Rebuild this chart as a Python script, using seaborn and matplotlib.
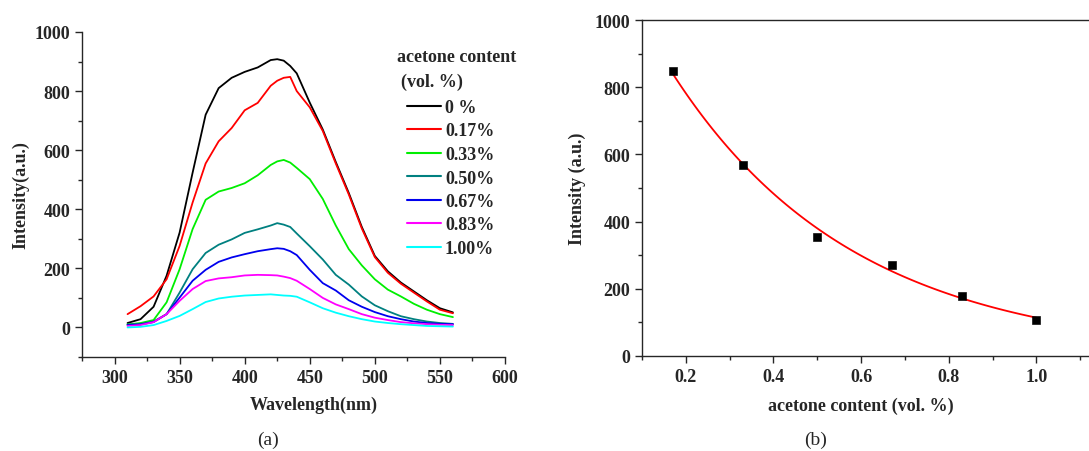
import numpy as np
import pandas as pd
import seaborn as sns
import matplotlib.pyplot as plt
from matplotlib.ticker import MultipleLocator

# (a) emission spectra for each acetone content
wavelength = [310, 320, 330, 340, 350, 360, 370, 380, 390, 400, 410, 420, 425, 430,
              435, 440, 450, 460, 470, 480, 490, 500, 510, 520, 530, 540, 550, 560]
content_labels = ["0 %", "0.17%", "0.33%", "0.50%", "0.67%", "0.83%", "1.00%"]
i_000 = [15, 28, 70, 175, 321, 524, 720, 810, 845, 865, 880, 905, 908, 903,
         885, 860, 761, 670, 560, 455, 340, 242, 190, 152, 122, 92, 65, 51]
i_017 = [45, 72, 105, 163, 276, 423, 555, 630, 675, 735, 760, 818, 835, 845,
         848, 800, 745, 665, 555, 450, 335, 238, 185, 148, 118, 88, 60, 48]
i_033 = [10, 15, 25, 85, 197, 333, 432, 460, 472, 488, 515, 550, 562, 567,
         558, 540, 502, 435, 345, 265, 210, 163, 128, 105, 80, 60, 45, 35]
i_050 = [10, 12, 20, 45, 118, 197, 252, 280, 298, 320, 332, 345, 353, 348,
         340, 318, 275, 230, 178, 145, 105, 75, 55, 38, 28, 20, 15, 12]
i_067 = [8, 10, 18, 45, 101, 158, 195, 222, 237, 248, 258, 265, 268, 266,
         258, 245, 195, 150, 125, 92, 70, 52, 38, 28, 20, 15, 12, 11]
i_083 = [5, 8, 18, 45, 90, 130, 157, 166, 170, 176, 178, 177, 176, 172,
         167, 158, 130, 100, 78, 62, 45, 33, 25, 18, 14, 11, 9, 8]
i_100 = [0, 2, 8, 22, 39, 62, 86, 98, 104, 108, 110, 112, 110, 108,
         107, 104, 85, 65, 50, 38, 28, 20, 15, 11, 8, 5, 4, 3]
line_colors = ["black", "red", "#00ee00", "#008080", "#0000ee", "#ff00ff", "cyan"]

# (b) peak intensity vs acetone content
content = [0.17, 0.33, 0.50, 0.67, 0.83, 1.00]
peak = [848, 567, 355, 272, 180, 108]

spectra = [i_000, i_017, i_033, i_050, i_067, i_083, i_100]
df = pd.concat([
    pd.DataFrame({"wl": wavelength, "I": s, "c": lab})
    for s, lab in zip(spectra, content_labels)
])

sns.set_style("ticks")
plt.rcParams["font.family"] = ["Liberation Serif", "DejaVu Serif"]
plt.rcParams["font.weight"] = "bold"
plt.rcParams["axes.labelweight"] = "bold"
plt.rcParams["axes.linewidth"] = 1.0

fig = plt.figure(figsize=(10.89, 4.52), dpi=100)
ax1 = fig.add_axes([0.0753, 0.208, 0.3884, 0.719])
ax2 = fig.add_axes([0.5895, 0.2102, 0.4105, 0.7433])

sns.lineplot(data=df, x="wl", y="I", hue="c", palette=line_colors,
             hue_order=content_labels, ax=ax1, linewidth=1.3, sort=False)
ax1.set_xlim(275, 600)
ax1.set_ylim(-100, 1000)
ax1.xaxis.set_major_locator(MultipleLocator(50))
ax1.xaxis.set_minor_locator(MultipleLocator(25))
ax1.yaxis.set_major_locator(MultipleLocator(200))
ax1.yaxis.set_minor_locator(MultipleLocator(100))
ax1.set_yticks([0, 200, 400, 600, 800, 1000])
ax1.set_xlabel("Wavelength(nm)", fontsize=13)
ax1.xaxis.set_label_coords(0.548, -0.12)
ax1.set_ylabel("Intensity(a.u.)", fontsize=13)
sns.despine(ax=ax1)
leg = ax1.legend(frameon=False,
                 loc="upper left", bbox_to_anchor=(407 / 1089, 1 - 100 / 452),
                 bbox_transform=fig.transFigure, fontsize=13,
                 handlelength=1.9, handletextpad=0.2,
                 labelspacing=0.36, borderaxespad=0, borderpad=0)
for h in leg.get_lines():
    h.set_linewidth(1.5)
fig.text(397 / 1089, 1 - 58 / 452, "acetone content", ha="left", va="center",
         fontsize=13, fontweight="bold")
fig.text(401 / 1089, 1 - 82 / 452, "(vol. %)", ha="left", va="center",
         fontsize=13, fontweight="bold")

# exponential fit through the measured points
k, b = np.polyfit(content, np.log(peak), 1)
fit_x = np.linspace(min(content), max(content), 100)
fit_df = pd.DataFrame({"x": fit_x, "y": np.exp(b + k * fit_x)})
sns.lineplot(data=fit_df, x="x", y="y", color="red", linewidth=1.3, ax=ax2)
sns.scatterplot(x=content, y=peak, marker="s", color="black", s=30,
                edgecolor="black", ax=ax2, zorder=3)
ax2.set_xlim(0.1, 1.12)
ax2.set_ylim(0, 1000)
ax2.xaxis.set_major_locator(MultipleLocator(0.2))
ax2.xaxis.set_minor_locator(MultipleLocator(0.1))
ax2.yaxis.set_major_locator(MultipleLocator(200))
ax2.yaxis.set_minor_locator(MultipleLocator(100))
ax2.set_xticks([0.2, 0.4, 0.6, 0.8, 1.0])
ax2.set_xlabel("acetone content (vol. %)", fontsize=13)
ax2.xaxis.set_label_coords(0.49, -0.12)
ax2.set_ylabel("Intensity (a.u.)", fontsize=13)
ax2.yaxis.set_label_coords(-0.125, 0.5)
ax2.spines["right"].set_visible(False)

for ax in (ax1, ax2):
    ax.tick_params(axis="both", which="major", direction="out", length=5,
                   labelsize=13, width=1.0)
    ax.tick_params(axis="both", which="minor", direction="out", length=3,
                   width=1.0)
    for t in ax.get_xticklabels() + ax.get_yticklabels():
        t.set_fontweight("bold")

fig.text(268 / 1089, 1 - 440 / 452, "(a)", ha="center", va="center",
         fontsize=14, fontweight="normal")
fig.text(816 / 1089, 1 - 440 / 452, "(b)", ha="center", va="center",
         fontsize=14, fontweight="normal")

fig.savefig("out.png", dpi=100)
